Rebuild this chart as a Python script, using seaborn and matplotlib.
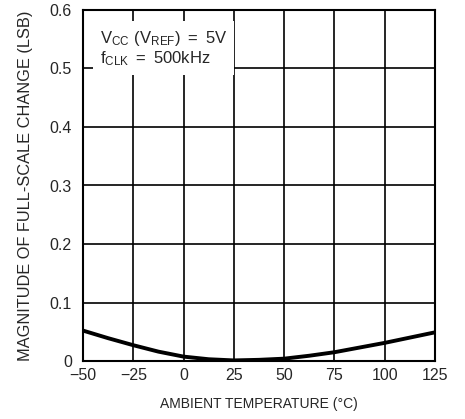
import matplotlib
matplotlib.use("Agg")
import matplotlib.pyplot as plt
import seaborn as sns
import pandas as pd

temperature = [-50, -37.5, -25, -12.5, 0, 12.5, 25, 37.5, 50, 62.5, 75, 87.5, 100, 112.5, 125]
lsb_change = [0.052, 0.039, 0.027, 0.016, 0.0075, 0.003, 0.001, 0.002, 0.004, 0.009, 0.015, 0.023, 0.031, 0.040, 0.049]
x_ticks = [-50, -25, 0, 25, 50, 75, 100, 125]
x_tick_labels = ["\u221250", "\u221225", "0", "25", "50", "75", "100", "125"]
y_ticks = [0, 0.1, 0.2, 0.3, 0.4, 0.5, 0.6]
y_tick_labels = ["0", "0.1", "0.2", "0.3", "0.4", "0.5", "0.6"]

sns.set_style("white")
plt.rcParams['font.family'] = ['Liberation Sans', 'DejaVu Sans']
plt.rcParams['mathtext.fontset'] = 'custom'
plt.rcParams['mathtext.rm'] = 'Liberation Sans'

fig = plt.figure(figsize=(4.65, 4.19), dpi=100)
ax = fig.add_axes([83/465, 1-361/419, (435-83)/465, (361-10)/419])

df = pd.DataFrame({"t": temperature, "v": lsb_change})
sns.lineplot(data=df, x="t", y="v", ax=ax, color="black", linewidth=2.8, zorder=5)

ax.set_xlim(-50, 125)
ax.set_ylim(0, 0.6)
ax.set_xticks(x_ticks)
ax.set_xticklabels(x_tick_labels, fontsize=11.5)
ax.set_yticks(y_ticks)
ax.set_yticklabels(y_tick_labels, fontsize=11.5)
ax.grid(True, color="black", linewidth=1.2)
ax.set_axisbelow(True)
ax.tick_params(length=0, pad=5)
ax.tick_params(axis="y", pad=8)
for s in ax.spines.values():
    s.set_color("black")
    s.set_linewidth(1.5)
ax.set_xlabel("AMBIENT TEMPERATURE (°C)", fontsize=10, labelpad=10)
ax.set_ylabel("MAGNITUDE OF FULL-SCALE CHANGE (LSB)", fontsize=11.8, labelpad=12)

ax.text(-41.5, 0.568, "$\\mathregular{V_{CC}\\ (V_{REF})\\;=\\;5V}$\n$\\mathregular{f_{CLK}\\;=\\;500kHz}$",
        fontsize=12, va="top", ha="left", linespacing=1.1, zorder=6,
        bbox=dict(facecolor="white", edgecolor="none", pad=5))

fig.savefig("out.png", dpi=100)
